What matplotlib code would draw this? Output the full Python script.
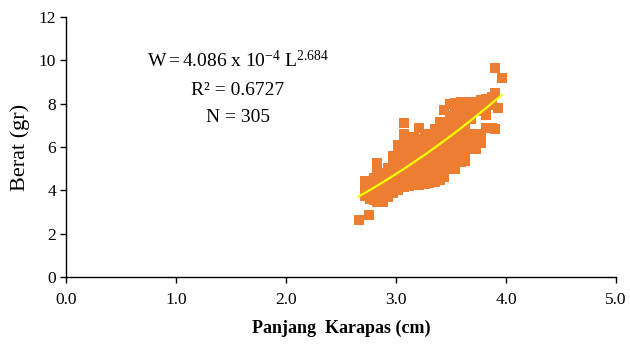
import matplotlib
matplotlib.use("Agg")
import matplotlib.pyplot as plt
import numpy as np

plt.rcParams['font.family'] = ['Liberation Serif', 'DejaVu Serif']
plt.rcParams['mathtext.fontset'] = 'custom'
plt.rcParams['mathtext.rm'] = 'Liberation Serif'
plt.rcParams['mathtext.it'] = 'Liberation Serif:italic'
plt.rcParams['mathtext.bf'] = 'Liberation Serif:bold'

# Carapace length (cm) columns and the weights (gr) read at each column
col_length = [2.66, 2.72, 2.75, 2.76, 2.80, 2.83, 2.88, 2.93, 2.97, 3.02, 3.07,
              3.12, 3.16, 3.21, 3.26, 3.30, 3.35, 3.40, 3.44, 3.49, 3.54,
              3.59, 3.63, 3.68, 3.73, 3.77, 3.82, 3.87, 3.90, 3.93, 3.96]
col_weight = [
    [2.62],
    [3.75, 4.10, 4.45],
    [2.85],
    [3.60, 3.95, 4.30],
    [3.55, 3.90, 4.25, 4.55],
    [3.45, 3.80, 4.15, 4.50, 4.90, 5.25],
    [3.45, 3.75, 4.10, 4.45, 4.80],
    [3.70, 4.00, 4.35, 4.70, 5.05],
    [3.90, 4.25, 4.60, 4.95, 5.30, 5.60],
    [4.00, 4.35, 4.70, 5.05, 5.40, 5.75, 6.10],
    [4.15, 4.50, 4.85, 5.20, 5.55, 5.90, 6.25, 6.60, 7.10],
    [4.20, 4.55, 4.90, 5.25, 5.60, 5.95, 6.30],
    [4.25, 4.60, 4.95, 5.30, 5.65, 6.00, 6.45],
    [4.25, 4.60, 4.95, 5.30, 5.65, 6.00, 6.35, 6.90],
    [4.30, 4.65, 5.00, 5.35, 5.70, 6.05, 6.40],
    [4.35, 4.70, 5.05, 5.40, 5.75, 6.10, 6.60],
    [4.40, 4.75, 5.10, 5.45, 5.80, 6.15, 6.50, 6.85],
    [4.50, 4.85, 5.20, 5.55, 5.90, 6.25, 6.60, 6.95, 7.15],
    [4.60, 4.95, 5.30, 5.65, 6.00, 6.35, 6.70, 7.05, 7.70],
    [5.00, 5.35, 5.70, 6.05, 6.40, 6.75, 7.10, 7.45, 8.00],
    [5.00, 5.35, 5.70, 6.05, 6.40, 6.75, 7.10, 7.45, 7.80, 8.05],
    [5.30, 5.65, 6.00, 6.35, 6.70, 7.05, 7.40, 7.75, 8.10],
    [5.35, 5.70, 6.05, 6.40, 6.75, 7.10, 7.45, 7.80, 8.10],
    [5.90, 6.25, 6.60, 7.30, 7.65, 8.10],
    [5.90, 6.25, 6.60, 7.65, 8.00],
    [6.20, 6.45, 7.70, 8.15],
    [6.90, 7.50, 7.85, 8.20],
    [6.90, 7.95, 8.30],
    [6.85, 8.50, 9.65],
    [7.80],
    [9.20],
]

# Power trendline coefficients estimated from the drawn curve
trend_a = 0.50
trend_b = 2.05

eq_text = r'$\mathrm{W = 4.086\ x\ 10^{-4}\ L^{2.684}}$'
r2_text = 'R² = 0.6727'
n_text = 'N = 305'

x_ticks = [0, 1, 2, 3, 4, 5]
x_tick_labels = ['0.0', '1.0', '2.0', '3.0', '4.0', '5.0']
y_ticks = [0, 2, 4, 6, 8, 10, 12]

length = []
weight = []
for cx, ys in zip(col_length, col_weight):
    for yv in ys:
        length.append(cx)
        weight.append(yv)
length = np.array(length)
weight = np.array(weight)

fig = plt.figure(figsize=(6.3, 3.45), dpi=100)
ax = fig.add_axes([0.1048, 0.1971, 0.9778 - 0.1048, 0.9507 - 0.1971])

ax.scatter(length, weight, marker='s', s=55, color='#ED7D31', linewidths=0, zorder=2)

xc = np.linspace(length.min(), length.max(), 200)
ax.plot(xc, trend_a * xc ** trend_b, color='#FFFF00', lw=1.6, zorder=3)

ax.set_xlim(0, 5)
ax.set_ylim(0, 12)
ax.set_xticks(x_ticks)
ax.set_xticklabels(x_tick_labels)
ax.set_yticks(y_ticks)
for s in ['top', 'right']:
    ax.spines[s].set_visible(False)
for s in ['left', 'bottom']:
    ax.spines[s].set_linewidth(1.0)
    ax.spines[s].set_color('black')
ax.tick_params(axis='both', direction='out', length=4, width=1, labelsize=12.5, colors='black')
ax.tick_params(axis='x', pad=7)
ax.tick_params(axis='y', pad=3)

ax.set_xlabel('Panjang  Karapas (cm)', fontsize=13, fontweight='bold', labelpad=8)
ax.set_ylabel('Berat (gr)', fontsize=16, labelpad=6)

ax.text(1.56, 9.69, eq_text, fontsize=14, ha='center', va='baseline')
ax.text(1.56, 8.40, r2_text, fontsize=14, ha='center', va='baseline')
ax.text(1.56, 7.15, n_text, fontsize=14, ha='center', va='baseline')

fig.savefig('out.png', dpi=100)
